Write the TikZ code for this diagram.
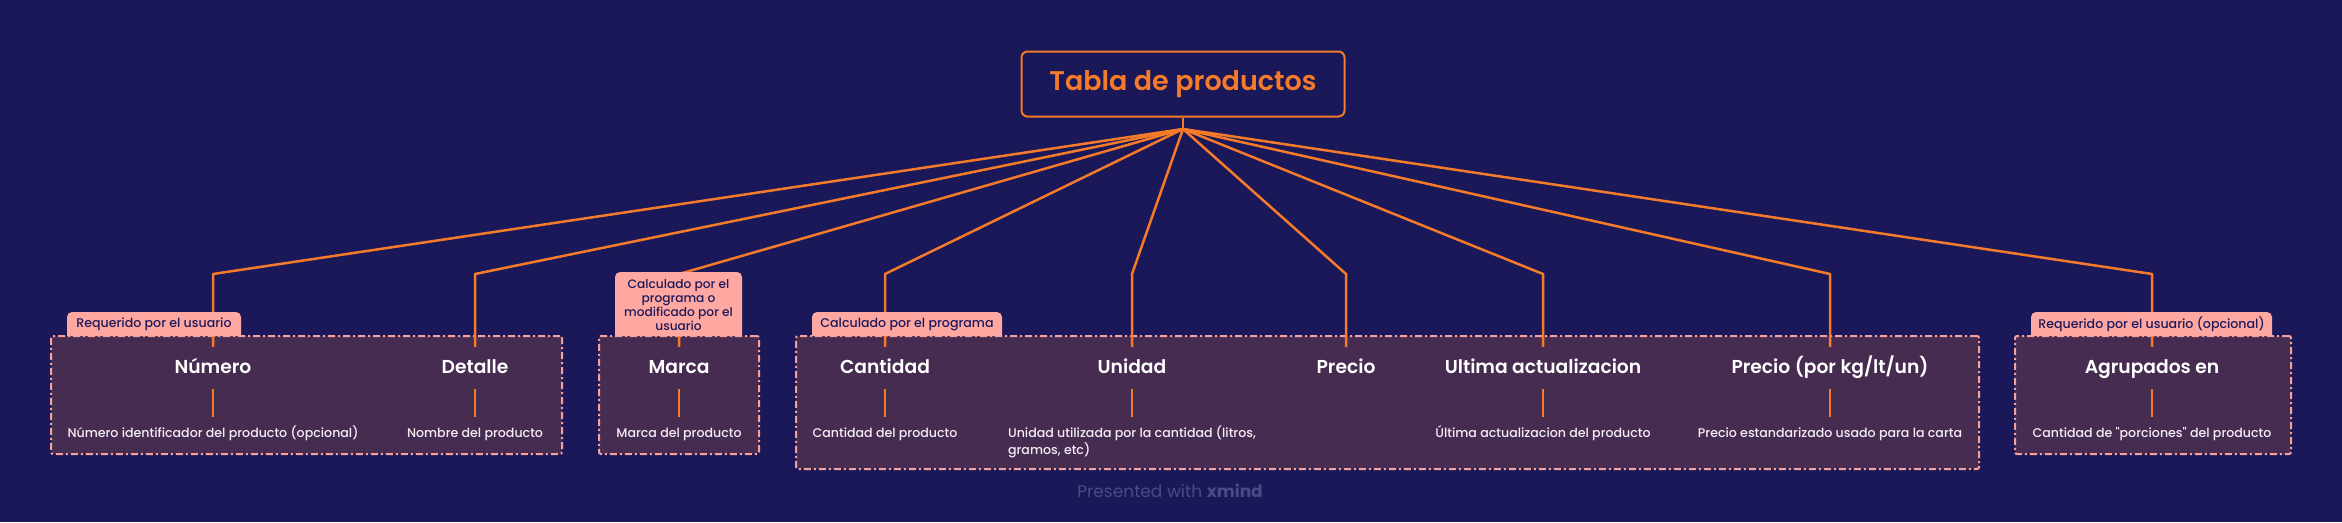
\documentclass[tikz,border=0pt]{standalone}
\usepackage{fontspec}
\setmainfont{Poppins}
\newfontfamily\semib{Poppins SemiBold}
\newfontfamily\medf{Poppins Medium}
\definecolor{bgnavy}{HTML}{1A1858}
\definecolor{grpfill}{HTML}{472C52}
\definecolor{orng}{HTML}{F57B2B}
\definecolor{pinkb}{HTML}{F4A29B}
\definecolor{labfill}{HTML}{FFA8A2}
\definecolor{labtext}{HTML}{1E1A5C}
\definecolor{credit}{HTML}{4A4A85}
\definecolor{desctext}{HTML}{F4EEF4}
\begin{document}
\begin{tikzpicture}[x=1pt,y=-1pt,
  conn/.style={draw=orng, line width=2.5pt, line join=round},
  subconn/.style={draw=orng, line width=2pt},
  rootbox/.style={draw=orng, line width=2pt, rounded corners=6pt, fill=bgnavy, minimum width=323pt, minimum height=65pt, text=orng, font=\semib\fontsize{27}{32}\selectfont},
  grp/.style={draw=pinkb, fill=grpfill, line width=2pt, dash pattern=on 7pt off 3pt on 2pt off 3pt, rounded corners=2pt, inner sep=0pt},
  title/.style={text=white, font=\semib\fontsize{18.7}{23}\selectfont, minimum height=42pt, inner sep=0pt, text height=14pt, text depth=4pt},
  desc/.style={text=desctext, font=\medf\fontsize{12.6}{17}\selectfont, anchor=north, inner xsep=0pt, inner ysep=10pt, text height=10pt, text depth=3pt},
  labfillst/.style={fill=labfill, rounded corners=5pt},
  labt/.style={text=labtext, font=\medf\fontsize{12.6}{14}\selectfont, inner sep=0pt, align=center}
]
\fill[bgnavy] (0,0) rectangle (2342,522);
\useasboundingbox (0,0) rectangle (2342,522);

% group boxes
\node[grp, minimum width=511pt, minimum height=118pt] (g1) at (306.5,395) {};
\node[grp, minimum width=160pt, minimum height=118pt] (g2) at (679,395) {};
\node[grp, minimum width=1183pt, minimum height=133pt] (g3) at (1387.5,402.5) {};
\node[grp, minimum width=276pt, minimum height=118pt] (g4) at (2153,395) {};

% root
\node[rootbox] (root) at (1183,84) {Tabla de productos};
\coordinate (hub) at (1183,129);

% titles
\node[title] (t1) at (213,368) {Número};
\node[title] (t2) at (475,368) {Detalle};
\node[title] (t3) at (679,368) {Marca};
\node[title] (t4) at (885,368) {Cantidad};
\node[title] (t5) at (1132,368) {Unidad};
\node[title] (t6) at (1346,368) {Precio};
\node[title] (t7) at (1543,368) {Ultima actualizacion};
\node[title] (t8) at (1830,368) {Precio (por kg/lt/un)};
\node[title] (t9) at (2152,368) {Agrupados en};

% descriptions
\node[desc] (d1) at (213,417) {Número identificador del producto (opcional)};
\node[desc] (d2) at (475,417) {Nombre del producto};
\node[desc] (d3) at (679,417) {Marca del producto};
\node[desc] (d4) at (885,417) {Cantidad del producto};
\node[desc, align=left, text height=27pt] (d5) at (1132,417) {Unidad utilizada por la cantidad (litros,\\gramos, etc)};
\node[desc] (d7) at (1543,417) {Última actualizacion del producto};
\node[desc] (d8) at (1830,417) {Precio estandarizado usado para la carta};
\node[desc] (d9) at (2152,417) {Cantidad de "porciones" del producto};

% elbows
\coordinate (e1) at (213,274);
\coordinate (e2) at (475,274);
\coordinate (e3) at (679,274);
\coordinate (e4) at (885,274);
\coordinate (e5) at (1132,274);
\coordinate (e6) at (1346,274);
\coordinate (e7) at (1543,274);
\coordinate (e8) at (1830,274);
\coordinate (e9) at (2152,274);

% connectors
\draw[conn] (root.south) -- (hub);
\foreach \i in {1,...,9} {
  \draw[conn] (hub) -- (e\i) -- (t\i.north);
}
\foreach \i in {1,2,3,4,5,7,8,9} {
  \draw[subconn] (t\i.south) -- (d\i.north);
}

% labels
\fill[labfillst] (67,336) -- (67,312) -- (241,312) -- (241,336);
\node[labt] (l1) at (154,324.5) {Requerido por el usuario};
\fill[labfillst] (615,336) -- (615,272) -- (742,272) -- (742,336);
\node[labt, font=\medf\fontsize{12.2}{14}\selectfont] (l2) at (678.5,305) {Calculado por el\\programa o\\modificado por el\\usuario};
\fill[labfillst] (812,336) -- (812,312) -- (1002,312) -- (1002,336);
\node[labt] (l3) at (907,324.5) {Calculado por el programa};
\fill[labfillst] (2031,336) -- (2031,312) -- (2272,312) -- (2272,336);
\node[labt] (l4) at (2151.5,324.5) {Requerido por el usuario (opcional)};

% credit
\node[text=credit, font=\fontsize{17}{20}\selectfont] (credit) at (1170,491) {Presented with \textbf{xmind}};
\end{tikzpicture}
\end{document}
